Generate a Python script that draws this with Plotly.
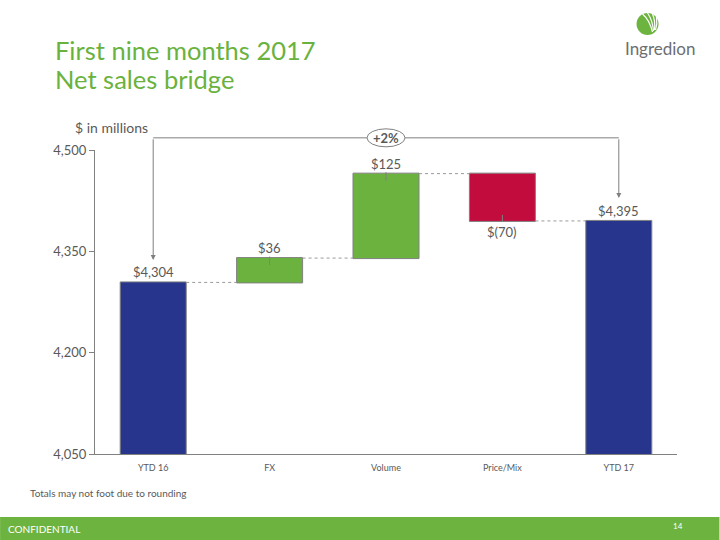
import plotly.graph_objects as go

# ---- data ----
categories = ["YTD 16", "FX", "Volume", "Price/Mix", "YTD 17"]
measures = ["absolute", "relative", "relative", "relative", "total"]
values = [4304, 36, 125, -70, 4395]
value_labels = ["$4,304", "$36", "$125", "$(70)", "$4,395"]
y_ticks = [4050, 4200, 4350, 4500]
y_tick_labels = ["4,050", "4,200", "4,350", "4,500"]
y_range = [4050, 4500]

# ---- colours / style ----
NAVY = "#27368C"
GREEN = "#6BB33E"
RED = "#C30C3E"
GREY = "#595959"
LINE = "#808080"
FONT = "Lato"

# plot area in page pixels
L, R, T, B = 95, 677.5, 150, 454
W, H = 720, 540

def px(x):
    return (x - L) / (R - L)

def py(y):
    return (B - y) / (B - T)

fig = go.Figure()
fig.add_trace(go.Waterfall(
    x=categories, y=values, measure=measures,
    increasing=dict(marker=dict(color=GREEN, line=dict(color=LINE, width=1))),
    decreasing=dict(marker=dict(color=RED, line=dict(color=LINE, width=1))),
    totals=dict(marker=dict(color=NAVY, line=dict(color=LINE, width=1))),
    connector=dict(mode="between", line=dict(color="#9a9a9a", width=1, dash="dot")),
    showlegend=False, hoverinfo="skip",
))

# running ends for label placement
ends = []
run = 0
for m, v in zip(measures, values):
    if m == "absolute":
        run = v
    elif m == "relative":
        run += v
    ends.append(run)

annotations = []
shapes = []
for cat, m, v, e, lab in zip(categories, measures, values, ends, value_labels):
    below = (m == "relative" and v < 0)
    annotations.append(dict(
        x=cat, y=e, xref="x", yref="y", text=lab, showarrow=False,
        yanchor="middle", yshift=-11 if below else 10,
        font=dict(family=FONT, size=13, color=GREY)))
    if m == "relative":
        shapes.append(dict(
            type="line", xref="x", yref="y", x0=cat, x1=cat,
            ysizemode="pixel", yanchor=e,
            y0=-1 if below else -7, y1=6 if below else 1.5,
            line=dict(color=LINE, width=1)))

# bracket with percentage change
pct = (values[-1] / values[0] - 1) * 100
BRACKET = 4518
LEFT_TIP = 4337
RIGHT_TIP = 4429
bracket_paper = (BRACKET - y_range[0]) / (y_range[1] - y_range[0])
for cat, tip in ((categories[0], LEFT_TIP), (categories[-1], RIGHT_TIP)):
    annotations.append(dict(
        x=cat, y=tip, xref="x", yref="y", ax=0, ay=BRACKET, axref="pixel", ayref="y",
        text="", showarrow=True, arrowhead=2, arrowsize=1, arrowwidth=1,
        arrowcolor="#7f7f7f", standoff=0))
shapes.append(dict(type="line", xref="x", yref="paper", x0=categories[0], x1=categories[-1],
                   y0=bracket_paper, y1=bracket_paper, line=dict(color="#7f7f7f", width=1)))
shapes.append(dict(type="circle", xref="x", yref="paper", xsizemode="pixel", ysizemode="pixel",
                   xanchor=categories[2], yanchor=bracket_paper, x0=-19, x1=19, y0=-9, y1=9,
                   fillcolor="white", line=dict(color="#7f7f7f", width=1), layer="above"))
annotations.append(dict(x=categories[2], y=bracket_paper, xref="x", yref="paper",
                        text="<b>+%d%%</b>" % round(pct), showarrow=False,
                        font=dict(family=FONT, size=13, color=GREY), yanchor="middle"))

# titles and page text
annotations += [
    dict(x=px(53), y=py(50), xref="paper", yref="paper", text="First nine months 2017",
         showarrow=False, xanchor="left", yanchor="middle",
         font=dict(family=FONT, size=25.5, color="#6AB23E")),
    dict(x=px(53), y=py(79), xref="paper", yref="paper", text="Net sales bridge",
         showarrow=False, xanchor="left", yanchor="middle",
         font=dict(family=FONT, size=25.5, color="#6AB23E")),
    dict(x=px(73), y=py(128), xref="paper", yref="paper", text="$ in millions",
         showarrow=False, xanchor="left", yanchor="middle",
         font=dict(family=FONT, size=14, color=GREY)),
    dict(x=px(28), y=py(493), xref="paper", yref="paper", text="Totals may not foot due to rounding",
         showarrow=False, xanchor="left", yanchor="middle",
         font=dict(family=FONT, size=10, color=GREY)),
    dict(x=px(6), y=py(529), xref="paper", yref="paper", text="CONFIDENTIAL",
         showarrow=False, xanchor="left", yanchor="middle",
         font=dict(family=FONT, size=10, color="white")),
    dict(x=px(679), y=py(526), xref="paper", yref="paper", text="14",
         showarrow=False, xanchor="center", yanchor="middle",
         font=dict(family=FONT, size=8, color="white")),
    dict(x=px(661), y=py(48), xref="paper", yref="paper", text="Ingredion",
         showarrow=False, xanchor="center", yanchor="middle",
         font=dict(family=FONT, size=17, color="#6d6e71")),
]

# footer band
shapes.append(dict(type="rect", xref="paper", yref="paper", x0=px(0), x1=px(W),
                   y0=py(517), y1=py(H), fillcolor="#6DB33F", line=dict(width=0), layer="below"))
# logo circle + leaf strokes
shapes.append(dict(type="circle", xref="paper", yref="paper", x0=px(637), x1=px(659),
                   y0=py(35), y1=py(13), fillcolor="#6DB33F", line=dict(width=0)))
for (sx, sy, cx, cy, ex, ey) in [(653, 32, 650, 20, 643, 14), (654, 31, 653, 20, 648, 13),
                                  (655, 30, 656, 21, 653, 14), (656, 30, 658, 24, 657, 17)]:
    shapes.append(dict(type="path", xref="paper", yref="paper",
                       path="M %f,%f Q %f,%f %f,%f" % (px(sx), py(sy), px(cx), py(cy), px(ex), py(ey)),
                       line=dict(color="white", width=1.2)))

fig.update_layout(
    width=W, height=H,
    margin=dict(l=L, r=W - R, t=T, b=H - B, pad=0),
    paper_bgcolor="white", plot_bgcolor="white",
    font=dict(family=FONT, color=GREY),
    waterfallgap=0.433,
    xaxis=dict(showgrid=False, showline=True, linecolor=LINE, linewidth=1, ticks="",
               ticklabelstandoff=5,
               tickfont=dict(family=FONT, size=9, color=GREY), zeroline=False, fixedrange=True),
    yaxis=dict(range=y_range, tickvals=y_ticks, ticktext=y_tick_labels, showgrid=False,
               showline=True, linecolor=LINE, linewidth=1, ticks="outside", ticklen=5,
               tickcolor=LINE, tickfont=dict(family=FONT, size=13, color=GREY), zeroline=False),
    annotations=annotations, shapes=shapes,
)

fig.write_html("out.html", config={"displayModeBar": False},
               post_script="document.body.style.margin='0';document.body.style.overflow='hidden';")
